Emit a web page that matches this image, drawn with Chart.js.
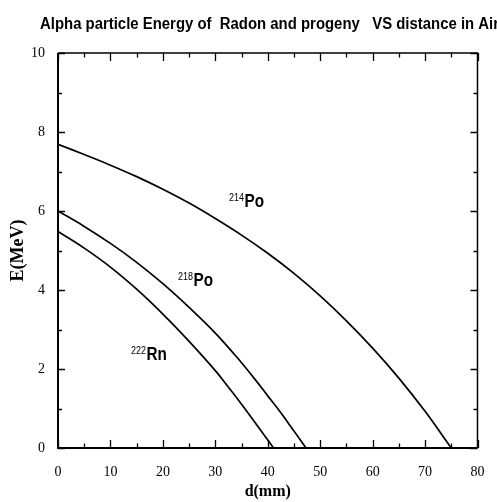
<!DOCTYPE html>
<html>
<head>
<meta charset="utf-8">
<script src="https://cdn.jsdelivr.net/npm/chart.js@4.4.1/dist/chart.umd.min.js"></script>
<style>
html,body{margin:0;padding:0;background:#fff;}
canvas{display:block;}
</style>
</head>
<body>
<canvas id="c" width="497" height="502"></canvas>
<script>
// ---- data ----
const titleText = "Alpha particle Energy of  Radon and progeny   VS distance in Air";
const xTitle = "d(mm)";
const yTitle = "E(MeV)";

const rnX  = [0, 5, 10, 15, 20, 25, 30, 32.5, 35, 37.5, 40, 41.1];
const rnE  = [5.48, 5.06, 4.58, 4.02, 3.39, 2.70, 1.96, 1.54, 1.11, 0.66, 0.2, 0];

const po218X = [0, 5, 10, 15, 20, 25, 30, 35, 37.5, 40, 42.5, 45, 47.3];
const po218E = [6.0, 5.61, 5.18, 4.70, 4.16, 3.56, 2.91, 2.16, 1.75, 1.32, 0.89, 0.43, 0];

const po214X = [0, 5, 10, 15, 20, 25, 30, 35, 40, 45, 50, 55, 60, 65, 70, 75];
const po214E = [7.69, 7.43, 7.16, 6.87, 6.55, 6.20, 5.81, 5.39, 4.93, 4.42, 3.85, 3.22, 2.53, 1.77, 0.93, 0];

const labels = [
  {mass: "214", sym: "Po", x: 32.6, y: 6.1},
  {mass: "218", sym: "Po", x: 22.9, y: 4.1},
  {mass: "222", sym: "Rn", x: 13.9, y: 2.23}
];

const xMin = 0, xMax = 80, xStep = 10, xMinor = 5;
const yMin = 0, yMax = 10, yStep = 2, yMinor = 1;

function pts(xs, ys){ return xs.map((x,i)=>({x:x, y:ys[i]})); }

function ds(xs, ys){
  return {
    data: pts(xs, ys),
    showLine: true,
    borderColor: '#000',
    borderWidth: 1.7,
    pointRadius: 0,
    fill: false,
    tension: 0.4
  };
}

const framePlugin = {
  id: 'frame',
  afterDraw(chart){
    const ctx = chart.ctx;
    const xs = chart.scales.x, ys = chart.scales.y;
    const a = chart.chartArea;
    ctx.save();
    ctx.strokeStyle = '#000';
    // ticks (inward, mirrored)
    ctx.lineWidth = 1.3;
    for (let v = xMin; v <= xMax + 1e-9; v += xMinor){
      const px = Math.round(xs.getPixelForValue(v)) + 0.5;
      const len = (Math.abs(v % xStep) < 1e-9) ? 8 : 4.5;
      ctx.beginPath();
      ctx.moveTo(px, a.bottom); ctx.lineTo(px, a.bottom - len);
      ctx.moveTo(px, a.top); ctx.lineTo(px, a.top + len);
      ctx.stroke();
    }
    for (let v = yMin; v <= yMax + 1e-9; v += yMinor){
      const py = Math.round(ys.getPixelForValue(v)) + 0.5;
      const len = (Math.abs(v % yStep) < 1e-9) ? 7 : 4;
      ctx.beginPath();
      ctx.moveTo(a.left, py); ctx.lineTo(a.left + len, py);
      ctx.moveTo(a.right, py); ctx.lineTo(a.right - len, py);
      ctx.stroke();
    }
    // frame
    ctx.lineWidth = 2;
    ctx.beginPath();
    ctx.moveTo(a.left, a.top); ctx.lineTo(a.left, a.bottom); ctx.lineTo(a.right, a.bottom);
    ctx.stroke();
    ctx.lineWidth = 1.5;
    ctx.beginPath();
    ctx.moveTo(a.left, a.top); ctx.lineTo(a.right, a.top); ctx.lineTo(a.right, a.bottom);
    ctx.stroke();

    // curve labels
    ctx.fillStyle = '#000';
    ctx.textBaseline = 'alphabetic';
    ctx.textAlign = 'left';
    labels.forEach(l => {
      const px = xs.getPixelForValue(l.x);
      const py = ys.getPixelForValue(l.y);
      ctx.font = '10px "Liberation Sans", Arial, sans-serif';
      const mw = ctx.measureText(l.mass).width;
      ctx.save();
      ctx.translate(px, py - 6);
      ctx.scale(0.9, 1);
      ctx.fillText(l.mass, 0, 0);
      ctx.restore();
      ctx.font = 'bold 18px "Liberation Sans", Arial, sans-serif';
      ctx.save();
      ctx.translate(px + mw * 0.9 + 0.5, py);
      ctx.scale(0.85, 1);
      ctx.fillText(l.sym, 0, 0);
      ctx.restore();
    });

    // chart title
    ctx.font = 'bold 16px "Liberation Sans", Arial, sans-serif';
    const w = ctx.measureText(titleText).width;
    ctx.save();
    ctx.translate(40, 28.5);
    ctx.scale(459 / w, 1);
    ctx.fillText(titleText, 0, 0);
    ctx.restore();
    ctx.restore();
  }
};

new Chart(document.getElementById('c'), {
  type: 'scatter',
  data: { datasets: [ ds(rnX, rnE), ds(po218X, po218E), ds(po214X, po214E) ] },
  options: {
    responsive: false,
    animation: false,
    devicePixelRatio: 1,
    layout: { padding: { left: 0, top: 53, right: 19.5, bottom: 0 } },
    plugins: { legend: { display: false }, tooltip: { enabled: false }, title: { display: false } },
    scales: {
      x: {
        type: 'linear', min: xMin, max: xMax,
        grid: { display: false },
        border: { display: false },
        ticks: { stepSize: xStep, padding: 8, color: '#000',
                 font: { family: '"Liberation Serif", "Times New Roman", serif', size: 14 } },
        title: { display: true, text: xTitle, color: '#000', padding: { top: 0, bottom: 1 },
                 font: { family: '"Liberation Serif", "Times New Roman", serif', size: 16, weight: 'bold' } },
        afterFit(s){ s.height = 54; }
      },
      y: {
        type: 'linear', min: yMin, max: yMax,
        grid: { display: false },
        border: { display: false },
        ticks: { stepSize: yStep, padding: 5, color: '#000',
                 font: { family: '"Liberation Serif", "Times New Roman", serif', size: 14 } },
        title: { display: true, text: yTitle, color: '#000', padding: { top: 8, bottom: 0 },
                 font: { family: '"Liberation Serif", "Times New Roman", serif', size: 18, weight: 'bold' } },
        afterFit(s){ s.width = 58; }
      }
    }
  },
  plugins: [framePlugin]
});
</script>
</body>
</html>
